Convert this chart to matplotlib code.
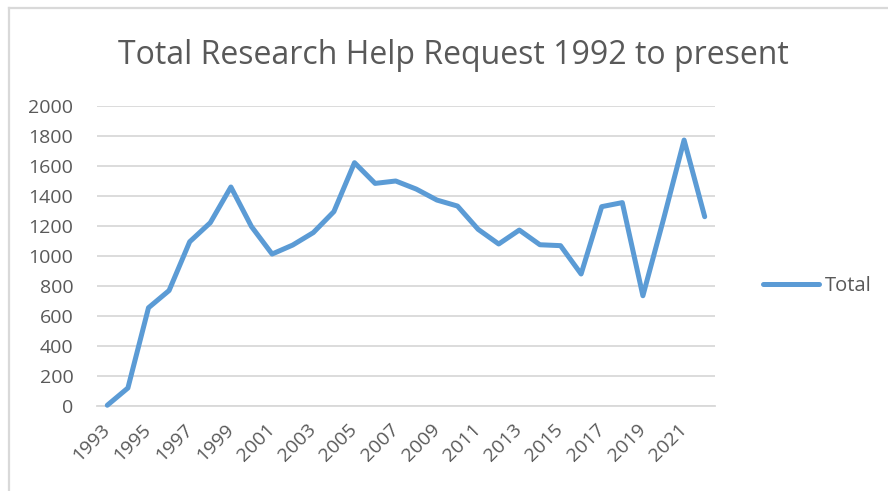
import matplotlib
matplotlib.use("Agg")
import matplotlib.pyplot as plt
from matplotlib.lines import Line2D

# -----------------------------
# Data
# -----------------------------
years = list(range(1993, 2023))

totals = [
    5, 120, 655, 770, 1095, 1222, 1460, 1196, 1013, 1073,
    1156, 1296, 1622, 1484, 1500, 1446, 1373, 1333, 1178, 1080,
    1173, 1075, 1069, 880, 1329, 1356, 735, 1245, 1773, 1262
]

tick_years = years[::2]
y_ticks = list(range(0, 2001, 200))

title = "Total Research Help Request 1992 to present"
series_name = "Total"

# -----------------------------
# Styles
# -----------------------------
line_color = "#5B9BD5"
grid_color = "#D9D9D9"
text_color = "#595959"

plt.rcParams["font.family"] = ["Open Sans", "DejaVu Sans"]

W, H = 888, 491
fig = plt.figure(figsize=(W / 100, H / 100), dpi=100)

# plot area in pixels: x 97..715, y 106..406
ax = fig.add_axes([97 / W, 1 - 406 / H, (715 - 97) / W, (406 - 106) / H])

ax.plot(
    years,
    totals,
    color=line_color,
    linewidth=3.6,
    solid_capstyle="round",
    solid_joinstyle="round",
    label=series_name,
    clip_on=False,
    zorder=3
)

ax.set_xlim(years[0] - 0.5, years[-1] + 0.5)
ax.set_ylim(0, 2000)

ax.set_yticks(y_ticks)
ax.set_yticklabels([str(v) for v in y_ticks])
ax.yaxis.grid(True, color=grid_color, linewidth=1.3)
ax.set_axisbelow(True)

ax.set_xticks(tick_years)
ax.set_xticklabels(
    [str(y) for y in tick_years],
    rotation=45,
    ha="right",
    va="center",
    rotation_mode="anchor"
)

ax.tick_params(axis="both", length=0, labelsize=14, labelcolor=text_color)
ax.tick_params(axis="y", pad=17)
ax.tick_params(axis="x", pad=15)

for side in ["top", "right", "left"]:
    ax.spines[side].set_visible(False)
ax.spines["bottom"].set_color(grid_color)
ax.spines["bottom"].set_linewidth(1.3)

# -----------------------------
# Title
# -----------------------------
fig.text(
    453 / W,
    1 - 63.5 / H,
    title,
    ha="center",
    va="baseline",
    fontsize=23,
    color=text_color
)

# -----------------------------
# Legend
# -----------------------------
ax.legend(
    loc="center left",
    bbox_to_anchor=(763 / W, 1 - 286 / H),
    bbox_transform=fig.transFigure,
    frameon=False,
    fontsize=14.5,
    labelcolor=text_color,
    handlelength=2.8,
    handletextpad=0.25,
    borderpad=0,
    borderaxespad=0
)

# -----------------------------
# Chart border (top and left only visible)
# -----------------------------
fig.add_artist(Line2D([8.5 / W, 1], [1 - 7.5 / H, 1 - 7.5 / H],
                      transform=fig.transFigure, color=grid_color, linewidth=1.6))
fig.add_artist(Line2D([8.5 / W, 8.5 / W], [0, 1 - 7.5 / H],
                      transform=fig.transFigure, color=grid_color, linewidth=1.6))

fig.savefig("out.png", dpi=100)
